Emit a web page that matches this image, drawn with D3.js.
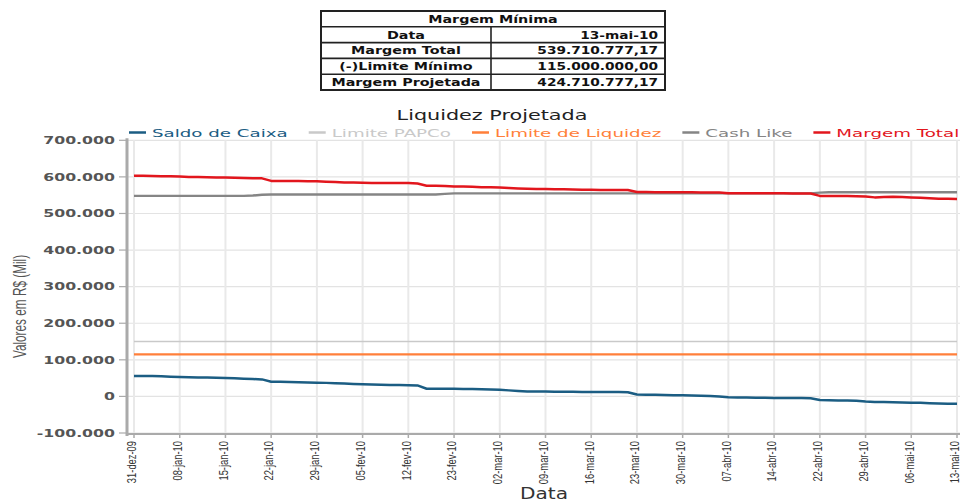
<!DOCTYPE html>
<html><head><meta charset="utf-8">
<script src="https://cdn.jsdelivr.net/npm/d3@7"></script>
<style>html,body{margin:0;padding:0;background:#fff;overflow:hidden}</style>
</head><body>
<svg id="chart" width="962" height="502"></svg>
<script>
// ---------- DATA ----------
const dates = [
 "31-dez-09",
 "04-jan-10","05-jan-10","06-jan-10","07-jan-10","08-jan-10",
 "11-jan-10","12-jan-10","13-jan-10","14-jan-10","15-jan-10",
 "18-jan-10","19-jan-10","20-jan-10","21-jan-10","22-jan-10",
 "25-jan-10","26-jan-10","27-jan-10","28-jan-10","29-jan-10",
 "01-fev-10","02-fev-10","03-fev-10","04-fev-10","05-fev-10",
 "08-fev-10","09-fev-10","10-fev-10","11-fev-10","12-fev-10",
 "17-fev-10","18-fev-10","19-fev-10","22-fev-10","23-fev-10",
 "24-fev-10","25-fev-10","26-fev-10","01-mar-10","02-mar-10",
 "03-mar-10","04-mar-10","05-mar-10","08-mar-10","09-mar-10",
 "10-mar-10","11-mar-10","12-mar-10","15-mar-10","16-mar-10",
 "17-mar-10","18-mar-10","19-mar-10","22-mar-10","23-mar-10",
 "24-mar-10","25-mar-10","26-mar-10","29-mar-10","30-mar-10",
 "31-mar-10","01-abr-10","05-abr-10","06-abr-10","07-abr-10",
 "08-abr-10","09-abr-10","12-abr-10","13-abr-10","14-abr-10",
 "15-abr-10","16-abr-10","19-abr-10","20-abr-10","22-abr-10",
 "23-abr-10","26-abr-10","27-abr-10","28-abr-10","29-abr-10",
 "30-abr-10","03-mai-10","04-mai-10","05-mai-10","06-mai-10",
 "07-mai-10","10-mai-10","11-mai-10","12-mai-10","13-mai-10"
];
const xTickLabels = ["31-dez-09","08-jan-10","15-jan-10","22-jan-10","29-jan-10","05-fev-10","12-fev-10","23-fev-10","02-mar-10","09-mar-10","16-mar-10","23-mar-10","30-mar-10","07-abr-10","14-abr-10","22-abr-10","29-abr-10","06-mai-10","13-mai-10"];

const saldoDeCaixa = [
 56000,
 56000,55500,55000,54000,53000,
 52500,52000,51500,51000,50500,
 49500,48500,47500,46500,40000,
 40000,39500,39000,38000,37500,
 37000,36000,35000,34000,33000,
 32500,32000,31500,31000,30500,
 30000,21000,21000,21000,21000,
 20500,20000,19500,19000,18000,
 16500,15000,13500,13500,13500,
 13000,13000,12500,12000,12000,
 12000,12000,12000,11500,5000,
 4500,4500,4000,3500,3000,
 2500,2000,1000,0,-2500,
 -3000,-3000,-3500,-3500,-4000,
 -4000,-4500,-4500,-5000,-10000,
 -10500,-11000,-11000,-12000,-14000,
 -15000,-15500,-16000,-16500,-17000,
 -17500,-18500,-19500,-20000,-20000
];
const cashLike = [
 548000,
 548000,548000,548000,548000,548000,
 548000,548000,548000,548000,548000,
 548000,548000,549000,551000,552000,
 552000,552000,552000,552000,552000,
 552000,552000,552000,552000,552000,
 552000,552000,552000,552000,552000,
 552000,552000,552000,553500,555000,
 555000,555000,555000,555000,555000,
 555000,555000,555000,555000,555000,
 555000,555000,555000,555000,555000,
 555000,555000,555000,555000,555000,
 555000,555000,555000,555000,555000,
 555000,555000,555000,555000,555000,
 555000,555000,555000,555000,555000,
 555000,555000,555000,555000,557000,
 558000,558000,558000,558000,558000,
 558000,558000,558000,558000,558000,
 558000,558000,558000,558000,558000
];
const margemTotal = [
 603000,
 603000,602500,602000,601500,601000,
 600000,599500,599000,598500,598000,
 597500,597000,596500,596000,589000,
 589000,588500,588500,588000,588000,
 587000,586000,585000,584500,584000,
 583500,583500,583000,583000,583000,
 582000,576000,575500,575000,574000,
 573500,573000,572000,571500,571000,
 569500,568500,567500,567000,567000,
 566500,566000,565500,565000,565000,
 564500,564500,564000,564000,558500,
 558500,558000,558000,558000,558000,
 558000,557500,557500,557000,555000,
 555000,555000,555000,555000,555000,
 555000,554500,554500,554500,548000,
 548000,547500,547500,547000,546500,
 544000,545000,546000,545000,544000,
 543000,541500,540500,540000,539711
];
const limitePAPCo = 150000;
const limiteLiquidez = 115000;
const yTicks = [-100000,0,100000,200000,300000,400000,500000,600000,700000];

const seriesNames  = ["Saldo de Caixa","Limite PAPCo","Limite de Liquidez","Cash Like","Margem Total"];
const seriesColors = ["#1b5d83","#c9c9c9","#ff7f3a","#858585","#e2161d"];

const chartTitle = "Liquidez Projetada";
const yTitle = "Valores em R$ (Mil)";
const xTitle = "Data";

const tableTitle  = "Margem Mínima";
const tableLabels = ["Data","Margem Total","(-)Limite Mínimo","Margem Projetada"];
const tableValues = ["13-mai-10","539.710.777,17","115.000.000,00","424.710.777,17"];

// ---------- DRAW ----------
const svg = d3.select("#chart");
svg.append("rect").attr("width",962).attr("height",502).attr("fill","#fff");

function stretch(sel, f, adj){
  sel.each(function(){
    const L = this.getComputedTextLength();
    d3.select(this).attr("textLength", L*f).attr("lengthAdjust", adj || "spacingAndGlyphs");
  });
}

const fmt = d3.formatLocale({decimal:",", thousands:".", grouping:[3], currency:["R$",""], minus:"-"}).format(",");

const x = d3.scalePoint().domain(dates).range([134, 957]);
const y = d3.scaleLinear().domain([-100000, 700000]).range([433, 140.3]);

const plotL = 127, plotR = 960, plotT = y(700000), plotB = 434;

// ---- table ----
const tb = svg.append("g").attr("class","table");
const tL = 321, tR = 665, tT = 11, rowH = 15.8, tDiv = 491;
const nRows = tableLabels.length + 1;
tb.append("rect").attr("x",tL).attr("y",tT).attr("width",tR-tL).attr("height",rowH*nRows)
  .attr("fill","#fff").attr("stroke","#222").attr("stroke-width",2);
d3.range(1,nRows).forEach(i=>{
  tb.append("line").attr("x1",tL).attr("x2",tR).attr("y1",tT+i*rowH).attr("y2",tT+i*rowH)
    .attr("stroke","#222").attr("stroke-width",1.6);
});
tb.append("line").attr("x1",tDiv).attr("x2",tDiv).attr("y1",tT+rowH).attr("y2",tT+rowH*nRows)
  .attr("stroke","#222").attr("stroke-width",1.6);
const tFont = {family:"DejaVu Sans", size:9.8};
const tTitle = tb.append("text").attr("x",(tL+tR)/2).attr("y",tT+rowH-4).attr("text-anchor","middle")
  .attr("font-family",tFont.family).attr("font-size",tFont.size).attr("font-weight","bold").attr("fill","#111")
  .text(tableTitle);
stretch(tTitle, 1.46);
const tLab = tb.selectAll("text.lab").data(tableLabels).join("text").attr("class","lab")
  .attr("x",(tL+tDiv)/2).attr("y",(d,i)=>tT+(i+2)*rowH-4).attr("text-anchor","middle")
  .attr("font-family",tFont.family).attr("font-size",tFont.size).attr("font-weight","bold").attr("fill","#111")
  .text(d=>d);
stretch(tLab, 1.46);
const tVal = tb.selectAll("text.val").data(tableValues).join("text").attr("class","val")
  .attr("x",tR-7).attr("y",(d,i)=>tT+(i+2)*rowH-4).attr("text-anchor","end")
  .attr("font-family",tFont.family).attr("font-size",tFont.size).attr("font-weight","bold").attr("fill","#111")
  .text(d=>d);
stretch(tVal, 1.4);

// ---- title ----
const title = svg.append("text").attr("x",492).attr("y",120).attr("text-anchor","middle")
  .attr("font-family","DejaVu Sans").attr("font-size",14).attr("fill","#222").text(chartTitle);
stretch(title, 1.48);

// ---- gridlines ----
const grid = svg.append("g");
grid.selectAll("line.h").data(yTicks).join("line").attr("class","h")
  .attr("x1",plotL).attr("x2",plotR).attr("y1",d=>y(d)).attr("y2",d=>y(d))
  .attr("stroke","#e3e3e3").attr("stroke-width",1.2);
grid.selectAll("line.v").data(xTickLabels).join("line").attr("class","v")
  .attr("x1",d=>x(d)).attr("x2",d=>x(d)).attr("y1",plotT).attr("y2",plotB)
  .attr("stroke","#e9e9e9").attr("stroke-width",2);

// ---- axes ----
const ax = svg.append("g");
ax.append("line").attr("x1",plotL).attr("x2",plotR).attr("y1",plotB).attr("y2",plotB)
  .attr("stroke","#aaaaaa").attr("stroke-width",2);
ax.selectAll("line.xt").data(xTickLabels).join("line").attr("class","xt")
  .attr("x1",d=>x(d)).attr("x2",d=>x(d)).attr("y1",plotB).attr("y2",plotB+4)
  .attr("stroke","#aaaaaa").attr("stroke-width",1.5);
ax.append("line").attr("x1",plotL).attr("x2",plotL).attr("y1",plotT-2).attr("y2",plotB+2)
  .attr("stroke","#aaaaaa").attr("stroke-width",3);
ax.selectAll("line.yt").data(yTicks).join("line").attr("class","yt")
  .attr("x1",plotL-8).attr("x2",plotL).attr("y1",d=>y(d)).attr("y2",d=>y(d))
  .attr("stroke","#aaaaaa").attr("stroke-width",1.2);
const yLab = ax.selectAll("text.yl").data(yTicks).join("text").attr("class","yl")
  .attr("x",plotL-12).attr("y",d=>y(d)).attr("dy","0.36em").attr("text-anchor","end")
  .attr("font-family","DejaVu Sans").attr("font-size",10.5).attr("font-weight","bold").attr("fill","#555")
  .text(d=>fmt(d));
stretch(yLab, 1.5);
const xLab = ax.selectAll("text.xl").data(xTickLabels).join("text").attr("class","xl")
  .attr("transform",d=>`translate(${x(d)+2.3},441) rotate(-90)`).attr("text-anchor","end")
  .attr("font-family","Liberation Sans").attr("font-size",13).attr("fill","#333")
  .text(d=>d);
stretch(xLab, 0.72);

const yT = svg.append("text").attr("transform","translate(26,306.5) rotate(-90)").attr("text-anchor","middle")
  .attr("font-family","Liberation Sans").attr("font-size",19).attr("fill","#555").text(yTitle);
stretch(yT, 0.62);
const xT = svg.append("text").attr("x",544).attr("y",499).attr("text-anchor","middle")
  .attr("font-family","DejaVu Sans").attr("font-size",15).attr("fill","#333").text(xTitle);
stretch(xT, 1.34);

// ---- lines ----
const seriesData = [
  saldoDeCaixa,
  dates.map(()=>limitePAPCo),
  dates.map(()=>limiteLiquidez),
  cashLike,
  margemTotal
];
const widths = [2.5, 1.6, 2.2, 2.4, 2.5];
const line = d3.line().x((d,i)=>x(dates[i])).y(d=>y(d));
const drawOrder = [1,2,0,3,4];
drawOrder.forEach(k=>{
  svg.append("path").datum(seriesData[k]).attr("d",line).attr("fill","none")
    .attr("stroke",seriesColors[k]).attr("stroke-width",widths[k]).attr("stroke-linejoin","round");
});

// ---- legend ----
const lg = svg.append("g");
let lx = 129;
seriesNames.forEach((name,k)=>{
  lg.append("line").attr("x1",lx).attr("x2",lx+17).attr("y1",132.5).attr("y2",132.5)
    .attr("stroke",seriesColors[k]).attr("stroke-width",2.5);
  const t = lg.append("text").attr("x",lx+23).attr("y",136.5)
    .attr("font-family","DejaVu Sans").attr("font-size",11.3).attr("fill",seriesColors[k]).text(name);
  stretch(t, 1.612);
  lx = lx + 23 + (+t.attr("textLength")) + 21;
});
</script>
</body></html>
